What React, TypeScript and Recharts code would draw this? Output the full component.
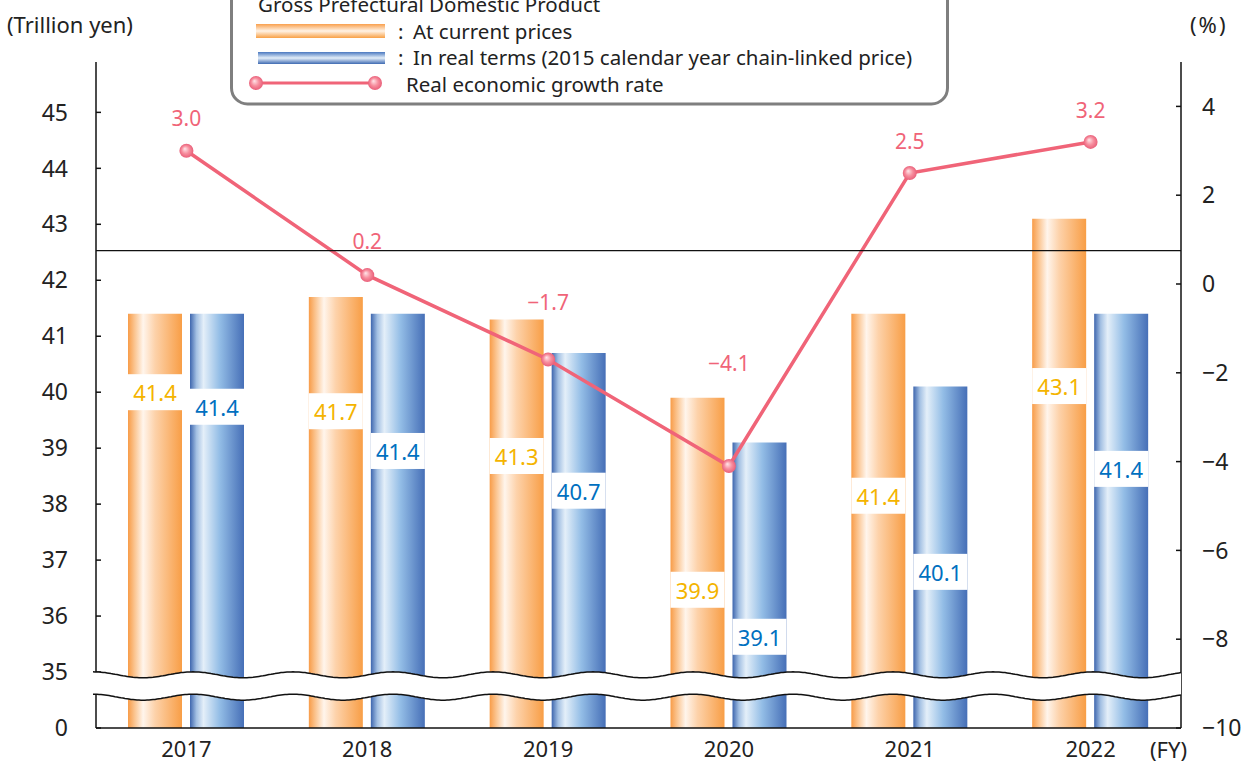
import React from 'react';
import {
  ComposedChart,
  Bar,
  Line,
  XAxis,
  YAxis,
  ReferenceLine,
  ReferenceArea,
  LabelList,
  Legend,
} from 'recharts';

// ---------- data ----------
const years = ['2017', '2018', '2019', '2020', '2021', '2022'];
const nominalGdp = [41.4, 41.7, 41.3, 39.9, 41.4, 43.1];
const realGdp = [41.4, 41.4, 40.7, 39.1, 40.1, 41.4];
const growthRate = [3.0, 0.2, -1.7, -4.1, 2.5, 3.2];
// where each value label sits (in axis units)
const nominalLabelAt = [40.0, 39.66, 38.86, 36.47, 38.15, 40.11];
const realLabelAt = [39.74, 38.95, 38.24, 35.63, 36.79, 38.63];
const growthLabelAt = [3.73, 0.96, -0.41, -1.79, 3.23, 3.93];

// left axis: 34 stands for "0" below the axis break
const LEFT_MIN = 34;
const LEFT_MAX = 45.9;
const leftTicks = [34, 35, 36, 37, 38, 39, 40, 41, 42, 43, 44, 45];
const rightTicks = [-10, -8, -6, -4, -2, 0, 2, 4];
const RIGHT_MIN = -10;
const RIGHT_MAX = 5;
const breakLow = 34.55;
const breakHigh = 34.95;
const refLineValue = 42.53;

const data = years.map((year, i) => ({
  year,
  nominal: nominalGdp[i],
  real: realGdp[i],
  growth: growthRate[i],
  growthLabel: growthLabelAt[i],
}));

const FONT = "'Noto Sans', 'DejaVu Sans', sans-serif";
const TEXT = '#222';
const LINE_COLOR = '#f06478';

const fmtNum = (v: number) => (v < 0 ? '\u2212' + Math.abs(v).toFixed(1) : v.toFixed(1));

const makeBarLabel = (labelAt: number[], color: string) => (props: any) => {
  const { x, y, width, height, value, index } = props;
  const bottom = Number(y) + Number(height);
  const ppu = Number(height) / (Number(value) - LEFT_MIN);
  const cy = bottom - (labelAt[index] - LEFT_MIN) * ppu;
  return (
    <g key={`bl-${color}-${index}`}>
      <rect x={x} y={cy - 18} width={width} height={36} fill="#fff" />
      <text
        x={Number(x) + Number(width) / 2}
        y={cy}
        textAnchor="middle"
        dominantBaseline="central"
        fill={color}
        fontSize={22}
        fontFamily={FONT}
      >
        {Number(value).toFixed(1)}
      </text>
    </g>
  );
};

const GrowthLabel = (props: any) => {
  const { x, y, index } = props;
  return (
    <text
      key={`gl-${index}`}
      x={x}
      y={y}
      textAnchor="middle"
      dominantBaseline="central"
      fill={LINE_COLOR}
      fontSize={21}
      fontFamily={FONT}
    >
      {fmtNum(growthRate[index])}
    </text>
  );
};

function wavePts(x0: number, x1: number, yc: number, amp: number, period: number) {
  const pts: [number, number][] = [];
  for (let px = x0; px <= x1 + 0.01; px += 2) {
    const py = yc + amp * Math.sin(((px - x0) / period) * 2 * Math.PI - Math.PI / 2);
    pts.push([px, py]);
  }
  return pts;
}
const toPath = (pts: [number, number][]) =>
  pts.map((p, i) => (i === 0 ? 'M' : 'L') + p[0].toFixed(1) + ',' + p[1].toFixed(1)).join('');

const BreakShape = (props: any) => {
  const { x, y, width, height } = props;
  const x0 = Number(x) - 3;
  const x1 = Number(x) + Number(width) + 1;
  const top = wavePts(x0, x1, Number(y), 3, 100);
  const bot = wavePts(x0, x1, Number(y) + Number(height), 3, 100);
  const fillPts = top.concat(bot.slice().reverse());
  return (
    <g>
      <path d={toPath(fillPts) + 'Z'} fill="#fff" stroke="none" />
      <path d={toPath(top)} fill="none" stroke="#111" strokeWidth={1.5} />
      <path d={toPath(bot)} fill="none" stroke="#111" strokeWidth={1.5} />
    </g>
  );
};

const GrowthDot = (props: any) => {
  const { cx, cy, index } = props;
  if (cx == null || cy == null) return <g key={`d-${index}`} />;
  return <circle key={`d-${index}`} cx={cx} cy={cy} r={7} fill="url(#dotGrad)" />;
};

const Overlay = () => (
  <svg width={1252} height={764} style={{ position: 'absolute', left: 0, top: 0 }}>
    <defs>
      <linearGradient id="legOrange" x1="0" y1="0" x2="0" y2="1">
        <stop offset="0%" stopColor="#f9a04d" />
        <stop offset="50%" stopColor="#fff3e6" />
        <stop offset="100%" stopColor="#f8a045" />
      </linearGradient>
      <linearGradient id="legBlue" x1="0" y1="0" x2="0" y2="1">
        <stop offset="0%" stopColor="#4a78c0" />
        <stop offset="50%" stopColor="#e3eef9" />
        <stop offset="100%" stopColor="#3e6ab2" />
      </linearGradient>
      <radialGradient id="legDot" cx="50%" cy="50%" r="50%" fx="38%" fy="35%">
        <stop offset="0%" stopColor="#ffe6ea" />
        <stop offset="55%" stopColor="#f78e9e" />
        <stop offset="100%" stopColor="#e9607a" />
      </radialGradient>
    </defs>
    <rect x={231.5} y={-30} width={716} height={134} rx={16} fill="#fff" stroke="#7f7f7f" strokeWidth={3} />
    <text x={258} y={12} fontSize={20.5} fontFamily={FONT} fill={TEXT}>
      Gross Prefectural Domestic Product
    </text>
    <rect x={256} y={24} width={129} height={14} fill="url(#legOrange)" />
    <text x={398} y={31} dominantBaseline="central" fontSize={20.5} fontFamily={FONT} fill={TEXT}>:</text>
    <text x={413} y={31} dominantBaseline="central" fontSize={20.5} fontFamily={FONT} fill={TEXT}>
      At current prices
    </text>
    <rect x={258} y={52} width={127} height={12} fill="url(#legBlue)" />
    <text x={398} y={57} dominantBaseline="central" fontSize={20.5} fontFamily={FONT} fill={TEXT}>:</text>
    <text x={413} y={57} dominantBaseline="central" fontSize={20.5} fontFamily={FONT} fill={TEXT}>
      In real terms (2015 calendar year chain-linked price)
    </text>
    <line x1={256} y1={83} x2={375} y2={83} stroke={LINE_COLOR} strokeWidth={3} />
    <circle cx={256} cy={83} r={7} fill="url(#legDot)" />
    <circle cx={375} cy={83} r={7} fill="url(#legDot)" />
    <text x={406} y={84} dominantBaseline="central" fontSize={20.5} fontFamily={FONT} fill={TEXT}>
      Real economic growth rate
    </text>
    <text x={7} y={24} dominantBaseline="central" fontSize={22} fontFamily={FONT} fill={TEXT}>
      (Trillion yen)
    </text>
    <text x={1190} y={24} dominantBaseline="central" fontSize={22} fontFamily={FONT} fill={TEXT} letterSpacing={2}>
      (%)
    </text>
    <text x={1150} y={749} dominantBaseline="central" fontSize={22} fontFamily={FONT} fill={TEXT}>
      (FY)
    </text>
  </svg>
);

export default function App() {
  return (
    <div style={{ position: 'relative', width: 1252, height: 764 }}>
      <style>{'body{margin:0}'}</style>
      <ComposedChart
        width={1252}
        height={764}
        data={data}
        margin={{ top: 62, right: 11, bottom: 6, left: 36 }}
        barGap={8}
        barSize={54}
      >
        <defs>
          <linearGradient id="orangeGrad" x1="0" y1="0" x2="1" y2="0">
            <stop offset="0%" stopColor="#f89c48" />
            <stop offset="12%" stopColor="#fbc48f" />
            <stop offset="28%" stopColor="#fff5ec" />
            <stop offset="50%" stopColor="#fdd2aa" />
            <stop offset="100%" stopColor="#f89e46" />
          </linearGradient>
          <linearGradient id="blueGrad" x1="0" y1="0" x2="1" y2="0">
            <stop offset="0%" stopColor="#3e66ae" />
            <stop offset="12%" stopColor="#a3c0e3" />
            <stop offset="25%" stopColor="#e4eff9" />
            <stop offset="55%" stopColor="#93bde6" />
            <stop offset="100%" stopColor="#466fb7" />
          </linearGradient>
          <radialGradient id="dotGrad" cx="50%" cy="50%" r="50%" fx="38%" fy="35%">
            <stop offset="0%" stopColor="#ffe6ea" />
            <stop offset="55%" stopColor="#f78e9e" />
            <stop offset="100%" stopColor="#e9607a" />
          </radialGradient>
        </defs>
        <XAxis
          dataKey="year"
          height={30}
          tickLine={false}
          tickSize={0}
          tickMargin={13}
          axisLine={{ stroke: '#111', strokeWidth: 1.5 }}
          tick={{ fill: TEXT, fontSize: 22, fontFamily: FONT }}
          interval={0}
        />
        <YAxis
          yAxisId="left"
          orientation="left"
          width={60}
          domain={[LEFT_MIN, LEFT_MAX]}
          ticks={leftTicks}
          allowDataOverflow
          interval={0}
          tickSize={-5}
          tickMargin={33}
          tickFormatter={(v: number) => (v === LEFT_MIN ? '0' : String(v))}
          axisLine={{ stroke: '#111', strokeWidth: 1.5 }}
          tickLine={{ stroke: '#111', strokeWidth: 1.5 }}
          tick={{ fill: TEXT, fontSize: 23, fontFamily: FONT, textAnchor: 'end' }}
        />
        <YAxis
          yAxisId="right"
          orientation="right"
          width={60}
          domain={[RIGHT_MIN, RIGHT_MAX]}
          ticks={rightTicks}
          allowDataOverflow
          interval={0}
          tickSize={-5}
          tickMargin={26}
          tickFormatter={(v: number) => (v < 0 ? '\u2212' + Math.abs(v) : String(v))}
          axisLine={{ stroke: '#111', strokeWidth: 1.5 }}
          tickLine={{ stroke: '#111', strokeWidth: 1.5 }}
          tick={{ fill: TEXT, fontSize: 23, fontFamily: FONT, textAnchor: 'start' }}
        />
        <Bar yAxisId="left" dataKey="nominal" fill="url(#orangeGrad)" isAnimationActive={false}>
          <LabelList dataKey="nominal" content={makeBarLabel(nominalLabelAt, '#f4b400')} />
        </Bar>
        <Bar yAxisId="left" dataKey="real" fill="url(#blueGrad)" isAnimationActive={false}>
          <LabelList dataKey="real" content={makeBarLabel(realLabelAt, '#0070c0')} />
        </Bar>
        <ReferenceLine yAxisId="left" y={refLineValue} stroke="#111" strokeWidth={1.2} zIndex={450} />
        <Line
          yAxisId="right"
          dataKey="growth"
          stroke={LINE_COLOR}
          strokeWidth={3.5}
          dot={(p: any) => <GrowthDot {...p} />}
          activeDot={false}
          isAnimationActive={false}
        />
        <Line
          yAxisId="right"
          dataKey="growthLabel"
          stroke="none"
          dot={false}
          activeDot={false}
          isAnimationActive={false}
          legendType="none"
        >
          <LabelList dataKey="growthLabel" content={(p: any) => <GrowthLabel {...p} />} />
        </Line>
        <ReferenceArea
          yAxisId="left"
          y1={breakLow}
          y2={breakHigh}
          shape={(p: any) => <BreakShape {...p} />}
          ifOverflow="visible"
          zIndex={2500}
        />
        <Legend
          layout="vertical"
          align="center"
          verticalAlign="middle"
          content={() => <Overlay />}
          wrapperStyle={{ position: 'absolute', left: 0, top: 0, width: 1252, height: 764, margin: 0, pointerEvents: 'none' }}
        />
      </ComposedChart>
    </div>
  );
}
